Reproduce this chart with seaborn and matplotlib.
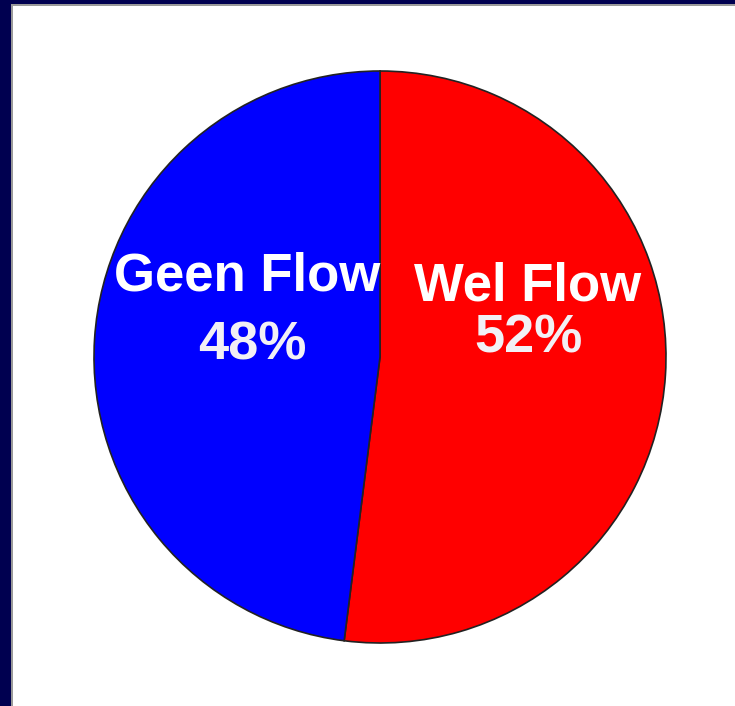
import matplotlib
matplotlib.use("Agg")
import matplotlib.pyplot as plt
import seaborn as sns
from matplotlib.patches import Rectangle

sns.set_theme(style="white")
plt.rcParams["font.family"] = ["Liberation Sans", "DejaVu Sans"]

# Flow share data
categories = ["Wel Flow", "Geen Flow"]
shares = [52, 48]
colors = ["#ff0000", "#0000ff"]
pct_labels = ["52%", "48%"]

W, H = 735, 706
fig = plt.figure(figsize=(W / 100, H / 100), dpi=100, facecolor="white")

# Dark frame along the top and left edges with a thin grey inner line
navy = "#000050"
fig.patches.append(Rectangle((0, 0), 11 / W, 1, transform=fig.transFigure,
                             facecolor=navy, edgecolor="none", zorder=0))
fig.patches.append(Rectangle((0, 1 - 4 / H), 1, 4 / H, transform=fig.transFigure,
                             facecolor=navy, edgecolor="none", zorder=0))
fig.patches.append(Rectangle((11 / W, 0), 2 / W, 1 - 4 / H, transform=fig.transFigure,
                             facecolor="#9a9a9a", edgecolor="none", zorder=0))
fig.patches.append(Rectangle((11 / W, 1 - 6 / H), 1, 2 / H, transform=fig.transFigure,
                             facecolor="#9a9a9a", edgecolor="none", zorder=0))

cx, cy, r = 380, 357, 286
ax = fig.add_axes([(cx - r) / W, (H - cy - r) / H, 2 * r / W, 2 * r / H])
ax.set_facecolor("none")

ax.pie(shares, colors=colors, startangle=90, counterclock=False, radius=1,
       wedgeprops=dict(edgecolor="#222222", linewidth=1.2))
ax.set_xlim(-1.0, 1.0)
ax.set_ylim(-1.0, 1.0)
ax.set_aspect("equal")
ax.axis("off")

# Category names and percentages inside the slices
name_pos = [(0.515, 0.245), (-0.465, 0.28)]
pct_pos = [(0.52, 0.065), (-0.445, 0.04)]
for name, pct, (nx, ny), (px, py) in zip(categories, pct_labels, name_pos, pct_pos):
    ax.text(nx, ny, name, ha="center", va="center", color="white",
            fontsize=38, fontweight="bold")
    ax.text(px, py, pct, ha="center", va="center", color="#f2f0f5",
            fontsize=39, fontweight="bold")

fig.savefig("out.png", dpi=100, facecolor="white")
